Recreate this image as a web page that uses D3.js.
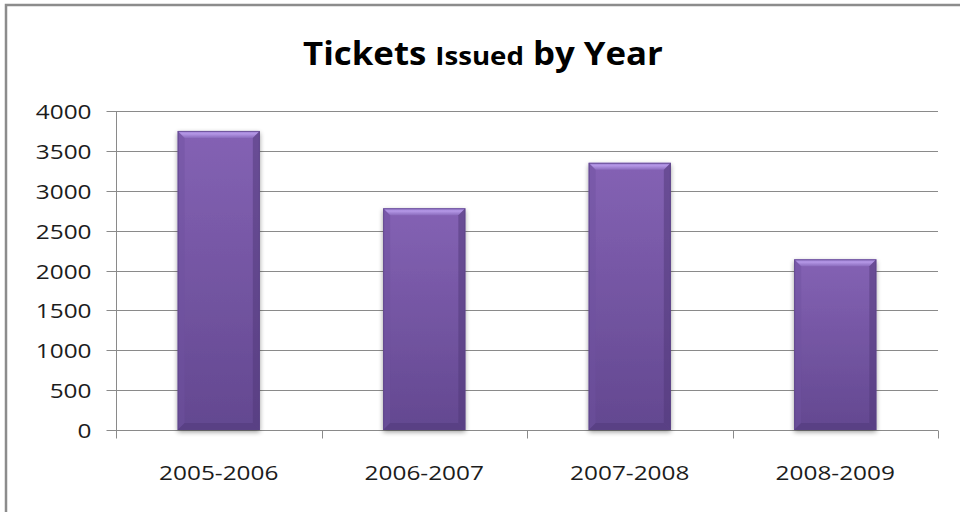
<!DOCTYPE html>
<html><head><meta charset="utf-8">
<script src="https://cdn.jsdelivr.net/npm/d3@7"></script>
<style>body{margin:0;background:#fff;}svg{display:block;}</style>
</head><body>
<script>
const categories = ["2005-2006", "2006-2007", "2007-2008", "2008-2009"];
const values = [3750, 2780, 3350, 2140];
const yTicks = [0, 500, 1000, 1500, 2000, 2500, 3000, 3500, 4000];

const W = 960, H = 512;
const svg = d3.select("body").append("svg").attr("width", W).attr("height", H);
const font = "'Open Sans', sans-serif";
const sx = 1.25; // horizontal stretch of the reference text

// outer frame
svg.append("rect").attr("x", 6).attr("y", 5).attr("width", 1000).attr("height", 600)
  .attr("fill", "none").attr("stroke", "#8c8c8c").attr("stroke-width", 2.5);

const m = {left: 116, right: 938, top: 111, bottom: 430};
const x = d3.scaleBand().domain(categories).range([m.left, m.right]).paddingInner(0.6).paddingOuter(0.3);
const y = d3.scaleLinear().domain([0, 4000]).range([m.bottom, m.top]);

// title
const title = svg.append("text").attr("text-anchor", "middle")
  .attr("font-family", font).attr("font-weight", "bold").attr("fill", "#000");
title.append("tspan").attr("font-size", 31.5).text("Tickets ");
title.append("tspan").attr("font-size", 25).text("Issued");
title.append("tspan").attr("font-size", 31.5).text(" by Year");
const tw = title.node().getComputedTextLength();
const ts = 360 / tw;
title.attr("transform", `translate(483,65) scale(${ts},1)`);

// gridlines
svg.append("g").selectAll("line").data(yTicks.filter(d => d > 0)).join("line")
  .attr("x1", m.left).attr("x2", m.right).attr("y1", d => Math.round(y(d)) + 0.5).attr("y2", d => Math.round(y(d)) + 0.5)
  .attr("stroke", "#8a8a8a").attr("stroke-width", 1);

// y axis
const yAxis = d3.axisLeft(y).tickValues(yTicks).tickSize(10).tickPadding(15).tickFormat(d3.format("d"));
const gy = svg.append("g").attr("transform", `translate(${m.left + 0.5},0)`).call(yAxis);
gy.select(".domain").remove();
gy.append("line").attr("y1", m.top).attr("y2", m.bottom + 8).attr("stroke", "#8a8a8a");
gy.selectAll(".tick").attr("transform", d => `translate(0,${Math.round(y(d)) + 0.5})`);
gy.selectAll(".tick line").attr("stroke", "#8a8a8a");
gy.selectAll(".tick text").attr("font-family", font).attr("font-size", 19.5).attr("fill", "#1c1c1c")
  .attr("x", 0).attr("dy", "0.36em").attr("transform", `translate(-25,0) scale(${sx},1)`);

// x axis
const gx = svg.append("g").attr("transform", `translate(0,${m.bottom + 0.5})`);
gx.append("line").attr("x1", m.left).attr("x2", m.right).attr("stroke", "#8a8a8a");
const boundaries = d3.range(categories.length + 1).map(i => m.left + i * (m.right - m.left) / categories.length);
gx.selectAll("line.t").data(boundaries).join("line").attr("class", "t")
  .attr("x1", d => Math.round(d) + 0.5).attr("x2", d => Math.round(d) + 0.5).attr("y1", 0).attr("y2", 8)
  .attr("stroke", "#8a8a8a");
gx.selectAll("text").data(categories).join("text")
  .attr("transform", d => `translate(${x(d) + x.bandwidth() / 2},49) scale(${sx},1)`).attr("text-anchor", "middle")
  .attr("font-family", font).attr("font-size", 19.5).attr("fill", "#1c1c1c").text(d => d);

// gradients
const defs = svg.append("defs");
const g1 = defs.append("linearGradient").attr("id", "barg").attr("x1", 0).attr("y1", 0).attr("x2", 0).attr("y2", 1);
g1.append("stop").attr("offset", "0%").attr("stop-color", "#8462b4");
g1.append("stop").attr("offset", "100%").attr("stop-color", "#634890");
const gt = defs.append("linearGradient").attr("id", "topg").attr("x1", 0).attr("y1", 0).attr("x2", 0).attr("y2", 1);
gt.append("stop").attr("offset", "0%").attr("stop-color", "#9a7cd0");
gt.append("stop").attr("offset", "40%").attr("stop-color", "#b497e6");
gt.append("stop").attr("offset", "100%").attr("stop-color", "#8a6bbd");
const filt = defs.append("filter").attr("id", "sh").attr("x", "-20%").attr("y", "-10%").attr("width", "140%").attr("height", "130%");
filt.append("feGaussianBlur").attr("in", "SourceAlpha").attr("stdDeviation", 2.5);
filt.append("feOffset").attr("dx", 0).attr("dy", 2).attr("result", "ob");
filt.append("feComponentTransfer").append("feFuncA").attr("type", "linear").attr("slope", 0.4);
const fm = filt.append("feMerge");
fm.append("feMergeNode");
fm.append("feMergeNode").attr("in", "SourceGraphic");

const bev = 7;
const bars = svg.append("g").selectAll("g").data(values).join("g");
bars.each(function(v, i) {
  const g = d3.select(this);
  const x0 = x(categories[i]), w = x.bandwidth(), y0 = y(v), y1 = y(0), h = y1 - y0;
  g.append("rect").attr("x", x0).attr("y", y0).attr("width", w).attr("height", h)
    .attr("fill", "url(#barg)").attr("filter", "url(#sh)");
  g.append("path").attr("d", `M${x0},${y0}H${x0 + w}L${x0 + w - bev},${y0 + bev}H${x0 + bev}Z`).attr("fill", "url(#topg)");
  g.append("path").attr("d", `M${x0},${y0}L${x0 + bev},${y0 + bev}V${y1 - bev}L${x0},${y1}Z`).attr("fill", "#6f52a0").attr("opacity", 0.45);
  g.append("path").attr("d", `M${x0 + w},${y0}L${x0 + w - bev},${y0 + bev}V${y1 - bev}L${x0 + w},${y1}Z`).attr("fill", "#4f3878").attr("opacity", 0.5);
  g.append("path").attr("d", `M${x0},${y1}H${x0 + w}L${x0 + w - bev},${y1 - bev}H${x0 + bev}Z`).attr("fill", "#533b7d").attr("opacity", 0.6);
  g.append("rect").attr("x", x0 + 0.5).attr("y", y0 + 0.5).attr("width", w - 1).attr("height", h - 1)
    .attr("fill", "none").attr("stroke", "#5a4284").attr("stroke-width", 1).attr("opacity", 0.7);
});
</script>
</body></html>
